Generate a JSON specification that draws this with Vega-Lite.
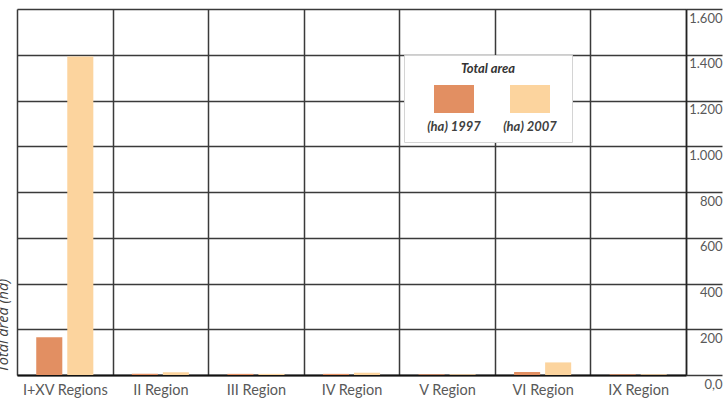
{
  "$schema": "https://vega.github.io/schema/vega-lite/v6.json",
  "width": 669,
  "height": 366,
  "autosize": {"type": "none"},
  "padding": {"left": 17, "top": 9, "right": 39, "bottom": 45},
  "background": "white",
  "config": {"view": {"stroke": null}},
  "data": {
    "values": [
      {"region": "I+XV Regions", "year": "(ha) 1997", "area": 165},
      {"region": "I+XV Regions", "year": "(ha) 2007", "area": 1392},
      {"region": "II Region", "year": "(ha) 1997", "area": 6},
      {"region": "II Region", "year": "(ha) 2007", "area": 12},
      {"region": "III Region", "year": "(ha) 1997", "area": 5},
      {"region": "III Region", "year": "(ha) 2007", "area": 5},
      {"region": "IV Region", "year": "(ha) 1997", "area": 5},
      {"region": "IV Region", "year": "(ha) 2007", "area": 10},
      {"region": "V Region", "year": "(ha) 1997", "area": 3},
      {"region": "V Region", "year": "(ha) 2007", "area": 3},
      {"region": "VI Region", "year": "(ha) 1997", "area": 13},
      {"region": "VI Region", "year": "(ha) 2007", "area": 55},
      {"region": "IX Region", "year": "(ha) 1997", "area": 3},
      {"region": "IX Region", "year": "(ha) 2007", "area": 3}
    ]
  },
  "mark": {"type": "bar"},
  "encoding": {
    "x": {
      "field": "region",
      "type": "nominal",
      "sort": null,
      "scale": {"paddingInner": 0, "paddingOuter": 0},
      "axis": {
        "orient": "bottom",
        "title": null,
        "tickBand": "extent",
        "grid": true,
        "gridColor": "#3a3a3a",
        "gridWidth": 1.5,
        "ticks": false,
        "domain": true,
        "domainColor": "#111111",
        "domainWidth": 2,
        "labelAngle": 0,
        "labelPadding": 8,
        "labelFont": "Lato",
        "labelFontSize": 14.5,
        "labelColor": "#595959"
      }
    },
    "xOffset": {
      "field": "year",
      "type": "nominal",
      "scale": {"paddingInner": 0.16, "paddingOuter": 0.62}
    },
    "y": {
      "field": "area",
      "type": "quantitative",
      "scale": {"domain": [0, 1600], "nice": false, "zero": true},
      "axis": {
        "orient": "right",
        "values": [0, 200, 400, 600, 800, 1000, 1200, 1400, 1600],
        "grid": true,
        "gridColor": "#3a3a3a",
        "gridWidth": 1.5,
        "tickSize": 36,
        "tickColor": "#3a3a3a",
        "tickWidth": 1.5,
        "domain": true,
        "domainColor": "#222222",
        "domainWidth": 1.5,
        "labelAlign": "right",
        "labelBaseline": "top",
        "labelPadding": 0,
        "labelOffset": 3,
        "labelFont": "Lato",
        "labelFontSize": 13,
        "labelColor": "#595959",
        "labelExpr": "datum.value == 0 ? '0,0' : replace(format(datum.value, ',d'), ',', '.')",
        "title": "Total area (ha)",
        "titleAngle": 270,
        "titleX": -679,
        "titleY": 363,
        "titleAlign": "left",
        "titleBaseline": "alphabetic",
        "titleFont": "Open Sans",
        "titleFontSize": 14.5,
        "titleFontStyle": "italic",
        "titleFontWeight": "normal",
        "titleColor": "#404040"
      }
    },
    "color": {
      "field": "year",
      "type": "nominal",
      "scale": {"domain": ["(ha) 1997", "(ha) 2007"], "range": ["#E28F62", "#FCD49E"]},
      "legend": {
        "orient": "none",
        "legendX": 387,
        "legendY": 46,
        "direction": "horizontal",
        "title": "Total area",
        "titleAnchor": "middle",
        "titleFont": "Lato",
        "titleFontSize": 13,
        "titleFontStyle": "italic",
        "titleFontWeight": "bold",
        "titleColor": "#333333",
        "titlePadding": 25,
        "symbolType": "M-1,-1.8H1V-0.4H-1Z M1,-0.4H1.7",
        "symbolSize": 1600,
        "symbolOffset": 22,
        "symbolStrokeWidth": 0,
        "symbolOpacity": 1,
        "labelAlign": "center",
        "labelOffset": -20,
        "labelBaseline": "top",
        "labelFont": "Lato",
        "labelFontSize": 13,
        "labelFontStyle": "italic",
        "labelFontWeight": "bold",
        "labelColor": "#404040",
        "columnPadding": 0,
        "padding": 8,
        "fillColor": "white",
        "strokeColor": "#d4d4d4"
      }
    }
  }
}
